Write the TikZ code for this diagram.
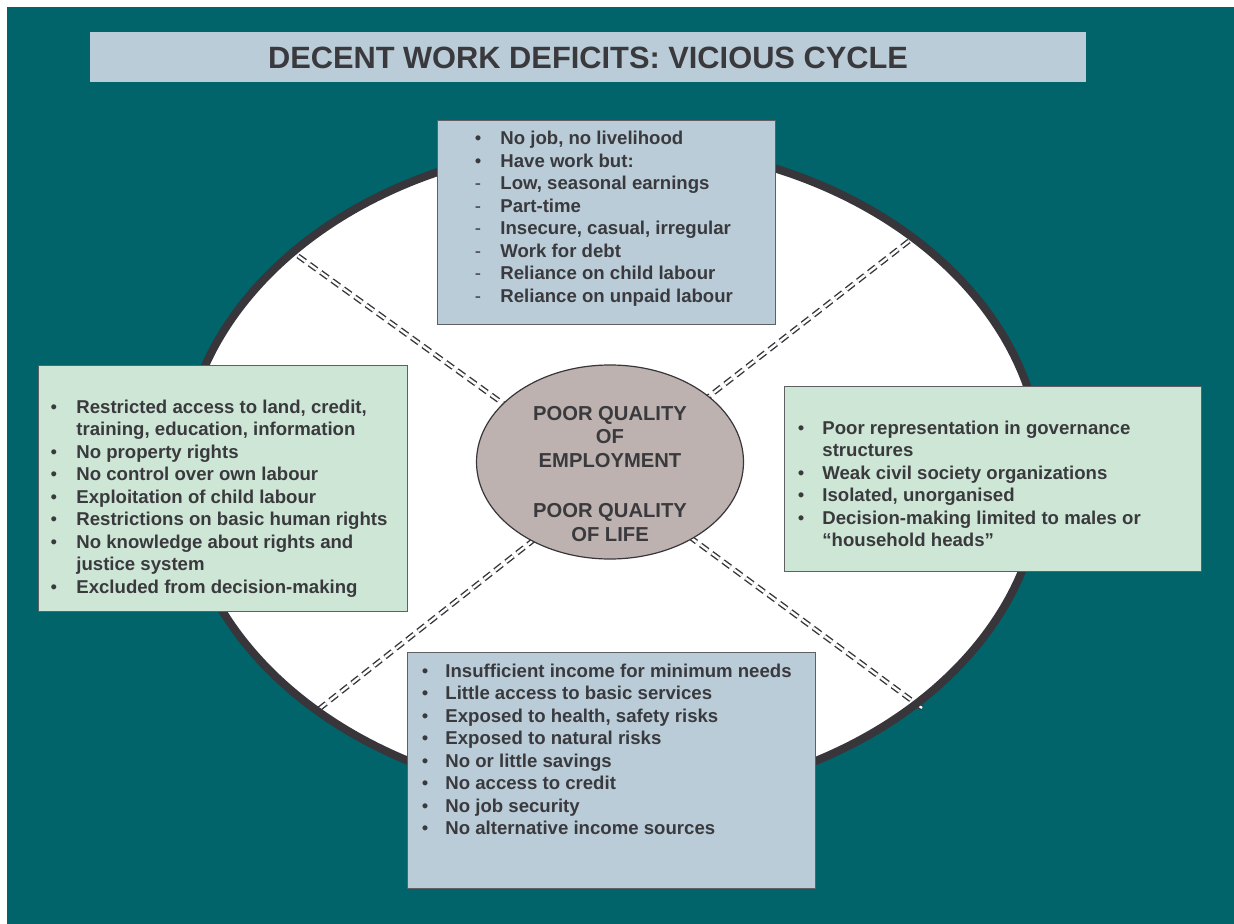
\documentclass[tikz,border=0pt]{standalone}
\usepackage{fontspec}
\setmainfont{Liberation Sans}
\usetikzlibrary{shapes.geometric}
\definecolor{teal0}{RGB}{0,100,106}
\definecolor{boxblue}{RGB}{185,204,215}
\definecolor{boxgreen}{RGB}{205,230,214}
\definecolor{ovalfill}{RGB}{189,178,175}
\definecolor{ink}{RGB}{58,58,62}
\definecolor{rim}{RGB}{56,54,59}
\definecolor{panelline}{RGB}{95,95,100}
\newcommand{\drawlist}[5]{%
  \foreach [count=\i] \b/\t in {#5} {
    \node[bul] (#1b\i) at (#2, {#4+(\i-1)*22.5}) {\b};
    \node[txt] (#1t\i) at (#3, {#4+(\i-1)*22.5}) {\t};
  }}
\begin{document}
\begin{tikzpicture}[x=0.5pt,y=-0.5pt,
  panel/.style={rectangle, draw=panelline, line width=0.6pt, inner sep=0pt, anchor=north west},
  txt/.style={font=\fontsize{9.3}{11.25}\selectfont\bfseries, text=ink, inner sep=0pt, anchor=base west},
  bul/.style={font=\fontsize{9.3}{11.25}\selectfont, text=ink, inner sep=0pt, anchor=base},
  ctxt/.style={font=\fontsize{10.1}{12}\selectfont\bfseries, text=ink, inner sep=0pt, anchor=base},
  spoke/.style={draw=rim, line width=0.7pt, double=white, double distance=1.2pt, dash pattern=on 4.5pt off 2.5pt}]
\useasboundingbox (0,0) rectangle (1234,924);
\fill[teal0] (7,7) rectangle (1234,924);
% title
\node[rectangle, fill=boxblue, minimum width=498pt, minimum height=25pt, inner sep=0pt, anchor=north west] (titlebox) at (90,32) {};
\node[font=\fontsize{15.4}{18}\selectfont\bfseries, text=ink, inner sep=0pt, anchor=base] (title) at (588,69) {DECENT WORK DEFICITS: VICIOUS CYCLE};
% outer oval
\node[ellipse, fill=white, minimum width=430pt, minimum height=328pt, inner sep=0pt] (oval) at (612,472) {};
% spoke ends
\coordinate (ulo) at (298,256);  \coordinate (uli) at (512,410);
\coordinate (uro) at (909,241);  \coordinate (uri) at (703,401);
\coordinate (llo) at (319,709);  \coordinate (lli) at (540,535);
\coordinate (lro) at (922,708);  \coordinate (lri) at (683,532);
\draw[spoke] (ulo) -- (uli);
\draw[spoke] (uro) -- (uri);
\draw[spoke] (llo) -- (lli);
\draw[spoke] (lro) -- (lri);
\draw[rim, line width=4pt] (oval.center) ellipse [x radius=215pt, y radius=164pt];
% centre
\node[ellipse, fill=ovalfill, draw=rim, line width=0.6pt, minimum width=133.5pt, minimum height=97pt, inner sep=0pt] (c) at (610,462) {};
\node[ctxt] (c1) at (610,420) {POOR QUALITY};
\node[ctxt] (c2) at (610,443.5) {OF};
\node[ctxt] (c3) at (610,467) {EMPLOYMENT};
\node[ctxt] (c4) at (610,517.5) {POOR QUALITY};
\node[ctxt] (c5) at (610,541) {OF LIFE};
% boxes
\node[panel, fill=boxblue, minimum width=169pt, minimum height=102pt] (topbox) at (437,120) {};
\node[panel, fill=boxgreen, minimum width=184.5pt, minimum height=123pt] (leftbox) at (38,365) {};
\node[panel, fill=boxgreen, minimum width=208.5pt, minimum height=92.5pt] (rightbox) at (784,386) {};
\node[panel, fill=boxblue, minimum width=204pt, minimum height=118pt] (botbox) at (407,652) {};
% lists
\drawlist{tp}{478}{500}{145}{{•/No job, no livelihood},{•/Have work but:},{-/Low, seasonal earnings},{-/Part-time},{-/Insecure, casual, irregular},{-/Work for debt},{-/Reliance on child labour},{-/Reliance on unpaid labour}}
\drawlist{lf}{54}{76}{413}{{•/Restricted access to land, credit,},{/training, education, information},{•/No property rights},{•/No control over own labour},{•/Exploitation of child labour},{•/Restrictions on basic human rights},{•/No knowledge about rights and},{/justice system},{•/Excluded from decision-making}}
\drawlist{rt}{801}{822}{434}{{•/Poor representation in governance},{/structures},{•/Weak civil society organizations},{•/Isolated, unorganised},{•/Decision-making limited to males or},{/“household heads”}}
\drawlist{bt}{425}{445}{677}{{•/Insufficient income for minimum needs},{•/Little access to basic services},{•/Exposed to health, safety risks},{•/Exposed to natural risks},{•/No or little savings},{•/No access to credit},{•/No job security},{•/No alternative income sources}}
\end{tikzpicture}
\end{document}
